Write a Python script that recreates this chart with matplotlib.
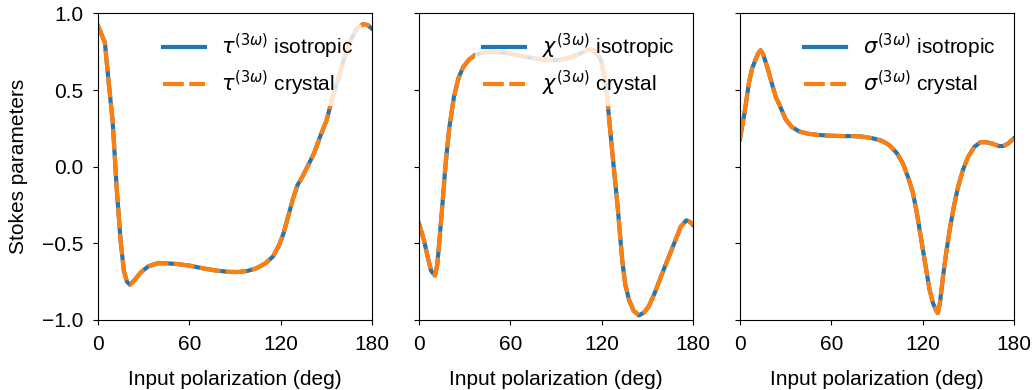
import matplotlib
matplotlib.use("Agg")
import matplotlib.pyplot as plt

plt.rcParams['font.family'] = ['Liberation Sans', 'DejaVu Sans']
plt.rcParams['font.size'] = 15
plt.rcParams['mathtext.fontset'] = 'dejavusans'
plt.rcParams['xtick.major.pad'] = 7
plt.rcParams['ytick.major.pad'] = 7

# tau panel
tau_deg = [0, 4.5, 7, 9.6, 12.2, 14.8, 17, 19, 21, 24, 28, 33, 39, 45, 52, 60, 70, 78, 86, 92,
           98, 104, 110, 115, 119, 122, 125, 128, 131, 134, 138, 142, 146, 150, 154, 158, 162,
           166, 170, 174, 177, 180]
tau_val = [0.92, 0.81, 0.55, 0.30, -0.13, -0.48, -0.68, -0.75, -0.77, -0.74, -0.69, -0.65,
           -0.63, -0.63, -0.635, -0.645, -0.665, -0.678, -0.686, -0.687, -0.68, -0.663, -0.63,
           -0.585, -0.51, -0.43, -0.32, -0.21, -0.12, -0.07, 0.01, 0.09, 0.20, 0.30, 0.45,
           0.58, 0.72, 0.83, 0.90, 0.93, 0.925, 0.90]

# chi panel
chi_deg = [0, 3.3, 6, 8, 10.5, 12, 13.1, 15.3, 17.5, 20, 23, 26, 29, 33, 37, 42, 46, 52, 59,
           66, 74, 81, 88, 94, 100, 106, 110, 113, 116, 119.4, 122.7, 125, 127, 130.3, 133.5,
           135.5, 138, 141, 144.5, 148, 151, 155, 159.8, 164, 168.5, 172, 175.5, 178, 180]
chi_val = [-0.37, -0.48, -0.60, -0.68, -0.71, -0.64, -0.52, -0.26, 0.02, 0.26, 0.457, 0.58,
           0.65, 0.70, 0.73, 0.745, 0.75, 0.748, 0.74, 0.725, 0.71, 0.70, 0.695, 0.70, 0.715,
           0.74, 0.76, 0.766, 0.75, 0.70, 0.545, 0.30, 0.09, -0.24, -0.61, -0.77, -0.87, -0.94,
           -0.97, -0.95, -0.91, -0.82, -0.695, -0.59, -0.478, -0.39, -0.35, -0.36, -0.38]

# sigma panel
sig_deg = [0, 3, 5.9, 8, 10.3, 12, 13.6, 15, 18, 20.5, 23.5, 27, 30, 34, 39, 45, 52, 60, 68,
           74, 80, 87, 93, 98, 103, 107, 110.5, 113.6, 116, 118, 120, 122.4, 124.5, 126.8,
           128.5, 130, 131.5, 133.4, 135.5, 137.8, 140.5, 143.3, 146.5, 149.9, 154, 158, 162,
           166, 170, 173, 176, 180]
sig_val = [0.18, 0.35, 0.545, 0.64, 0.70, 0.74, 0.76, 0.74, 0.65, 0.56, 0.457, 0.38, 0.31,
           0.26, 0.23, 0.215, 0.207, 0.202, 0.20, 0.20, 0.197, 0.186, 0.17, 0.142, 0.09, 0.022,
           -0.07, -0.17, -0.29, -0.41, -0.53, -0.674, -0.80, -0.89, -0.93, -0.955, -0.88,
           -0.717, -0.56, -0.41, -0.26, -0.13, -0.02, 0.065, 0.13, 0.16, 0.16, 0.15, 0.135,
           0.135, 0.15, 0.186]

symbols = [r'\tau', r'\chi', r'\sigma']
xticks = [0, 60, 120, 180]
yticks = [-1.0, -0.5, 0.0, 0.5, 1.0]

fig, axes = plt.subplots(1, 3, figsize=(10.35, 3.9), dpi=100, sharey=True)
fig.subplots_adjust(left=0.0947, right=0.9797, top=0.9654, bottom=0.1795, wspace=0.171)

data = [(tau_deg, tau_val), (chi_deg, chi_val), (sig_deg, sig_val)]
for ax, sym, (d, v) in zip(axes, symbols, data):
    ax.plot(d, v, color='#1f77b4', lw=3, label=r'$%s^{(3\omega)}$ isotropic' % sym)
    ax.plot(d, v, color='#ff7f0e', lw=3, ls=(0, (5, 1.3)),
            label=r'$%s^{(3\omega)}$ crystal' % sym)
    ax.set_xlim(0, 180)
    ax.set_ylim(-1.0, 1.0)
    ax.set_xticks(xticks)
    ax.set_yticks(yticks)
    ax.set_xlabel('Input polarization (deg)', labelpad=12)
    leg = ax.legend(loc='upper right', framealpha=0.8, labelspacing=0.35)
    leg.get_frame().set_edgecolor('none')
axes[0].set_ylabel('Stokes parameters', labelpad=10)

fig.savefig('out.png', dpi=100)
